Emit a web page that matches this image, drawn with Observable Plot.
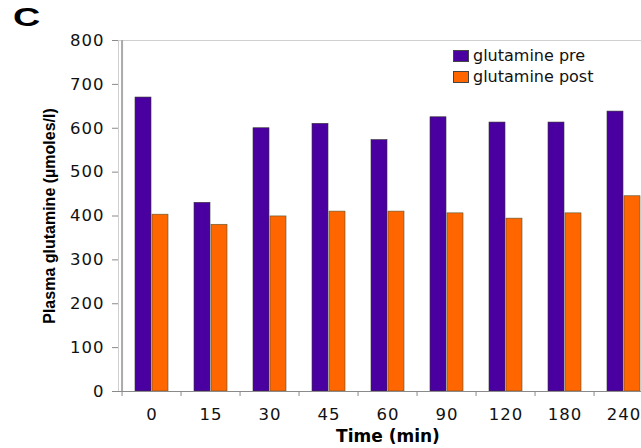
<!DOCTYPE html>
<html><head><meta charset="utf-8">
<script src="https://cdn.jsdelivr.net/npm/d3@7"></script>
<script src="https://cdn.jsdelivr.net/npm/@observablehq/plot@0.6"></script>
<style>
html,body{margin:0;padding:0;background:#fff;overflow:hidden;width:641px;height:448px}
#wrap{position:relative;width:641px;height:448px;overflow:hidden}
#wrap svg{max-width:none !important;position:absolute;left:0;top:0}
#panel{position:absolute;left:13px;top:4px;font:bold 26px "Liberation Sans",Arial,sans-serif;transform:scaleX(1.45);transform-origin:0 0;color:#000;line-height:26px}
#legend{position:absolute;left:453px;top:45px;font:16px "DejaVu Sans",sans-serif;color:#111}
#legend .row{display:flex;align-items:center;height:21px}
#legend .sw{width:16px;height:12px;box-sizing:border-box;border:1px solid #444;margin-right:4px}
g[aria-label="y-axis tick label"] text, g[aria-label="x-axis tick label"] text{font-family:"DejaVu Sans",sans-serif;font-size:16.5px;letter-spacing:1px;fill:#111}
g[aria-label="text"] text{font-family:"Liberation Sans",Arial,sans-serif;font-size:16px;font-weight:bold;fill:#000}
g[aria-label="x-axis label"] text{font-family:"DejaVu Sans",sans-serif;font-size:17px;font-weight:bold;fill:#000}
</style>
</head><body>
<div id="wrap"><div id="panel">C</div><div id="legend"></div></div>
<script>
const times = ["0","15","30","45","60","90","120","180","240"];
const preValues = [670,430,600,610,573,625,613,613,638];
const postValues = [403,380,399,410,410,406,394,406,445];
const seriesNames = ["glutamine pre","glutamine post"];
const seriesColors = ["#4a00a0","#ff6600"];
const yTicks = [0,100,200,300,400,500,600,700,800];
const yLabel = "Plasma glutamine (µmoles/l)";
const xLabel = "Time (min)";

const pre = times.map((t,i)=>({time:t, value:preValues[i]}));
const post = times.map((t,i)=>({time:t, value:postValues[i]}));

const W = 700, ML = 118, MR = 43;
const bw = (W - ML - MR) / times.length;

const chart = Plot.plot({
  width: W, height: 448,
  marginLeft: ML, marginRight: MR, marginTop: 40, marginBottom: 57,
  style: {fontFamily: "DejaVu Sans", background: "transparent"},
  x: {domain: times, padding: 0, label: null},
  y: {domain: [0, 800], label: null},
  marks: [
    Plot.frame({stroke: "#cfcfcf"}),
    Plot.barY(pre, {x: "time", y: "value", fill: seriesColors[0], insetLeft: 13, insetRight: 30, stroke: "#333", strokeWidth: 0.6}),
    Plot.barY(post, {x: "time", y: "value", fill: seriesColors[1], insetLeft: 30, insetRight: 13, stroke: "#553", strokeWidth: 0.6}),
    Plot.ruleY([0], {stroke: "#8a8a8a"}),
    Plot.ruleX(times.slice(0,1), {x: d => d, dx: -bw/2, stroke: "#aaa", strokeWidth: 2}),
    Plot.ruleX(times, {x: d => d, dx: -bw/2, y1: () => 0, y2: () => 0, insetBottom: -5, stroke: "#8a8a8a"}),
    Plot.axisY({ticks: yTicks, tickFormat: d => String(d), tickSize: 6, tickPadding: 8, stroke: "#8a8a8a", label: null}),
    Plot.text([yLabel], {text: d => d, frameAnchor: "left", textAnchor: "middle", rotate: -90, lineAnchor: "top", dx: -75}),
    Plot.axisX({tickSize: 0, tickPadding: 17, label: xLabel, labelAnchor: "center", labelOffset: 50})
  ]
});
document.getElementById("wrap").prepend(chart);

const legend = document.getElementById("legend");
seriesNames.forEach((name, i) => {
  const row = document.createElement("div");
  row.className = "row";
  const sw = document.createElement("div");
  sw.className = "sw";
  sw.style.background = seriesColors[i];
  const lab = document.createElement("span");
  lab.textContent = name;
  row.append(sw, lab);
  legend.append(row);
});
</script>
</body></html>
